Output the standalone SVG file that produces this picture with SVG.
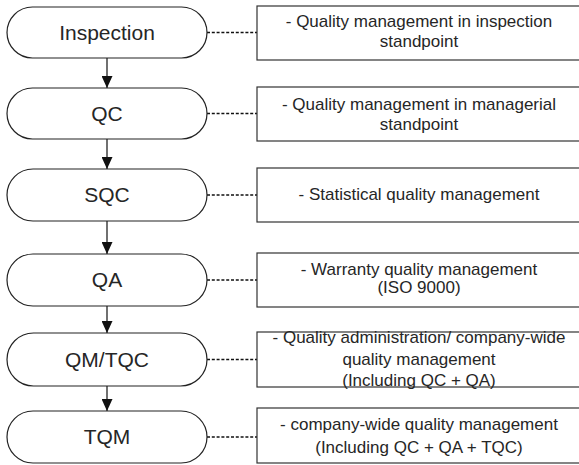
<svg xmlns="http://www.w3.org/2000/svg" width="579" height="465" viewBox="0 0 579 465">
  <style>
    .pill { fill: #ffffff; stroke: #222222; stroke-width: 1.2; }
    .box { fill: #ffffff; stroke: #333333; stroke-width: 1.2; }
    .stage { font-family: "Liberation Sans", Arial, sans-serif; font-size: 21px; fill: #262626; text-anchor: middle; }
    .note { font-family: "Liberation Sans", Arial, sans-serif; font-size: 17px; fill: #262626; text-anchor: middle; }
    .flow { stroke: #111111; stroke-width: 1.2; fill: none; }
    .link { stroke: #111111; stroke-width: 1.5; stroke-dasharray: 3 1.8; fill: none; }
  </style>
  <defs>
    <marker id="head" markerUnits="userSpaceOnUse" markerWidth="12" markerHeight="11" refX="12" refY="5.5" orient="auto">
      <path d="M0,0 L12,5.5 L0,11 Z" fill="#111111"/>
    </marker>
  </defs>
  <rect width="579" height="465" fill="#ffffff"/>

  <!-- connectors: flow arrows and dashed links to the notes -->
  <g id="connectors">
    <line class="flow" x1="107" y1="58" x2="107" y2="88" marker-end="url(#head)"/>
    <line class="flow" x1="107" y1="139" x2="107" y2="169" marker-end="url(#head)"/>
    <line class="flow" x1="107" y1="221" x2="107" y2="254" marker-end="url(#head)"/>
    <line class="flow" x1="107" y1="306" x2="107" y2="333" marker-end="url(#head)"/>
    <line class="flow" x1="107" y1="386" x2="107" y2="411" marker-end="url(#head)"/>
    <line class="link" x1="207" y1="32.5" x2="257" y2="32.5"/>
    <line class="link" x1="207" y1="113.5" x2="257" y2="113.5"/>
    <line class="link" x1="207" y1="195" x2="257" y2="195"/>
    <line class="link" x1="207" y1="280" x2="257" y2="280"/>
    <line class="link" x1="207" y1="359.5" x2="257" y2="359.5"/>
    <line class="link" x1="207" y1="437" x2="257" y2="437"/>
  </g>

  <!-- stages -->
  <g id="inspection">
    <rect class="pill" x="7" y="7" width="200" height="51" rx="25.5"/>
    <text class="stage" x="107" y="40">Inspection</text>
  </g>
  <g id="qc">
    <rect class="pill" x="7" y="88" width="200" height="51" rx="25.5"/>
    <text class="stage" x="107" y="121">QC</text>
  </g>
  <g id="sqc">
    <rect class="pill" x="7" y="169" width="200" height="52" rx="26"/>
    <text class="stage" x="107" y="202">SQC</text>
  </g>
  <g id="qa">
    <rect class="pill" x="7" y="254" width="200" height="52" rx="26"/>
    <text class="stage" x="107" y="287">QA</text>
  </g>
  <g id="qmtqc">
    <rect class="pill" x="7" y="333" width="200" height="53" rx="26.5"/>
    <text class="stage" x="107" y="366.5">QM/TQC</text>
  </g>
  <g id="tqm">
    <rect class="pill" x="7" y="411" width="200" height="52" rx="26"/>
    <text class="stage" x="107" y="443.5">TQM</text>
  </g>

  <!-- notes -->
  <g id="note-inspection">
    <rect class="box" x="257" y="6" width="324" height="54"/>
    <text class="note" x="419" y="27">- Quality management in inspection</text>
    <text class="note" x="419" y="47">standpoint</text>
  </g>
  <g id="note-qc">
    <rect class="box" x="257" y="87" width="324" height="54"/>
    <text class="note" x="419" y="110">- Quality management in managerial</text>
    <text class="note" x="419" y="130">standpoint</text>
  </g>
  <g id="note-sqc">
    <rect class="box" x="257" y="168" width="324" height="54"/>
    <text class="note" x="419" y="200">- Statistical quality management</text>
  </g>
  <g id="note-qa">
    <rect class="box" x="257" y="253" width="324" height="54"/>
    <text class="note" x="419" y="275">- Warranty quality management</text>
    <text class="note" x="419" y="293">(ISO 9000)</text>
  </g>
  <g id="note-qmtqc">
    <rect class="box" x="257" y="332" width="324" height="55"/>
    <text class="note" x="419" y="343">- Quality administration/ company-wide</text>
    <text class="note" x="419" y="365">quality management</text>
    <text class="note" x="419" y="386">(Including QC + QA)</text>
  </g>
  <g id="note-tqm">
    <rect class="box" x="257" y="408" width="324" height="55"/>
    <text class="note" x="419" y="429.5">- company-wide quality management</text>
    <text class="note" x="419" y="453">(Including QC + QA + TQC)</text>
  </g>
</svg>
